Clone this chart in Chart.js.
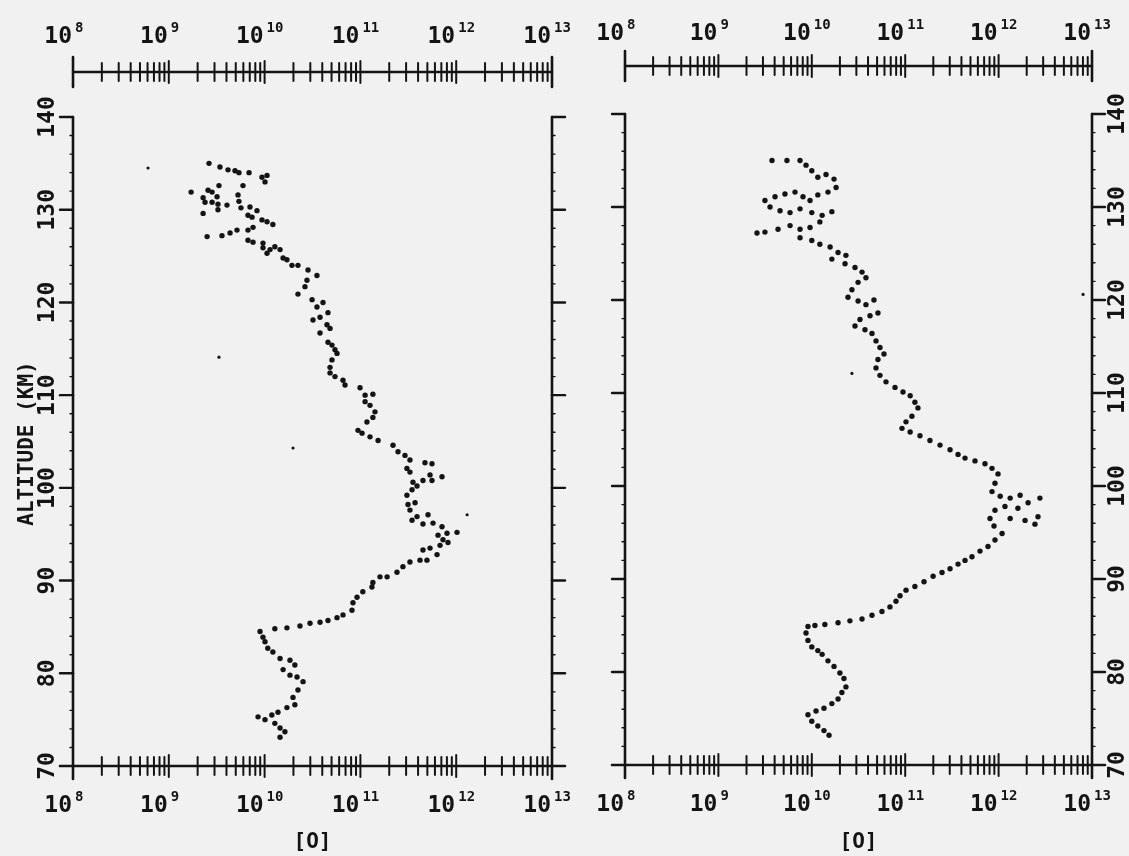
<!DOCTYPE html>
<html><head><meta charset="utf-8">
<script src="https://cdn.jsdelivr.net/npm/chart.js@4.4.1/dist/chart.umd.min.js"></script>
<style>
html,body{margin:0;padding:0;background:#f1f1f1;width:1129px;height:856px;overflow:hidden}
#wl{position:absolute;left:0;top:0;width:590px;height:856px}
#wr{position:absolute;left:590px;top:0;width:539px;height:856px}
</style></head><body>
<div id="wl"><canvas id="cl"></canvas></div>
<div id="wr"><canvas id="cr"></canvas></div>
<script>
// ---- axis labels ----
const xTickExponents = [8, 9, 10, 11, 12, 13];
const altitudeTicks = [70, 80, 90, 100, 110, 120, 130, 140];
const yTitle = 'ALTITUDE (KM)';
const xTitle = '[O]';

// ---- left profile: [O] density (cm^-3) and altitude (km) ----
const leftO = [2.63e9,3.42e9,4.15e9,4.91e9,5.40e9,6.88e9,9.39e9,1.06e10,1.01e10,3.34e9,
5.95e9,1.71e9,2.57e9,2.83e9,5.28e9,3.19e9,2.28e9,2.39e9,2.83e9,5.40e9,
3.26e9,4.05e9,7.04e9,5.67e9,3.26e9,8.33e9,2.28e9,6.71e9,7.39e9,9.39e9,
1.06e10,1.22e10,7.57e9,6.71e9,5.15e9,4.36e9,3.59e9,2.51e9,6.71e9,7.57e9,
9.62e9,1.28e10,9.62e9,1.14e10,1.45e10,1.06e10,1.56e10,1.71e10,1.93e10,2.23e10,
2.84e10,3.52e10,2.77e10,2.64e10,2.23e10,3.13e10,4.07e10,3.52e10,4.59e10,3.79e10,
3.20e10,4.48e10,4.82e10,3.79e10,4.59e10,5.05e10,5.43e10,5.70e10,5.05e10,4.82e10,
4.82e10,5.43e10,6.58e10,6.91e10,9.91e10,1.12e11,1.35e11,1.12e11,1.26e11,1.42e11,
1.35e11,1.17e11,9.44e10,1.04e11,1.26e11,1.53e11,2.19e11,2.47e11,2.92e11,3.29e11,
4.72e11,5.59e11,3.06e11,3.29e11,5.33e11,7.11e11,4.50e11,5.59e11,3.54e11,3.90e11,
3.46e11,3.06e11,3.72e11,3.14e11,3.29e11,5.08e11,3.90e11,3.46e11,5.73e11,4.50e11,
7.11e11,1.02e12,8.02e11,6.46e11,7.28e11,8.21e11,6.78e11,5.33e11,4.50e11,6.31e11,
4.95e11,4.19e11,3.29e11,2.78e11,2.41e11,1.90e11,1.60e11,1.35e11,1.32e11,1.06e11,
9.22e10,8.37e10,8.17e10,6.58e10,5.70e10,4.59e10,3.79e10,2.98e10,2.34e10,1.71e10,
1.28e10,8.96e9,9.62e9,1.01e10,1.08e10,1.22e10,1.45e10,1.84e10,2.07e10,1.56e10,
1.84e10,2.18e10,2.52e10,2.23e10,1.98e10,2.07e10,1.71e10,1.38e10,1.19e10,8.54e9,
1.01e10,1.28e10,1.45e10,1.63e10,1.45e10];
const leftAlt = [135.0,134.6,134.3,134.2,134.0,134.0,133.5,133.7,133.0,132.6,
132.6,131.9,132.1,131.9,131.6,131.4,131.3,130.8,130.8,130.9,
130.6,130.5,130.3,130.2,130.0,129.9,129.6,129.4,129.2,128.9,
128.7,128.4,128.1,127.8,127.8,127.5,127.2,127.1,126.7,126.5,
126.4,126.0,125.9,125.7,125.7,125.3,124.8,124.6,124.0,124.0,
123.5,122.9,122.4,121.7,120.9,120.3,120.0,119.5,118.9,118.4,
118.1,117.6,117.2,116.7,115.7,115.4,114.9,114.5,113.8,113.0,
112.4,112.0,111.6,111.1,110.8,110.0,110.1,109.3,108.9,108.2,
107.6,107.1,106.2,105.9,105.5,105.1,104.6,103.9,103.5,103.0,
102.7,102.6,102.1,101.7,101.4,101.2,100.8,100.8,100.6,100.2,
99.8,99.2,98.4,98.2,97.6,97.1,96.9,96.5,96.2,96.1,
95.8,95.2,95.1,94.9,94.4,94.1,93.8,93.5,93.3,92.8,
92.2,92.2,92.0,91.5,90.9,90.4,90.4,89.8,89.3,88.8,
88.2,87.6,86.8,86.3,86.0,85.7,85.5,85.4,85.1,84.9,
84.8,84.5,83.9,83.4,82.7,82.3,81.6,81.4,80.9,80.4,
79.8,79.6,79.1,78.2,77.4,76.6,76.3,75.8,75.5,75.3,
75.0,74.6,74.1,73.7,73.1];
const leftStrayO = [6.07e8, 3.34e9, 1.98e10, 1.30e12];
const leftStrayAlt = [134.5, 114.1, 104.3, 97.1];

// ---- right profile ----
const rightO = [3.75e9,5.42e9,7.48e9,8.67e9,1.00e10,1.16e10,1.42e10,1.73e10,1.82e10,1.49e10,
1.16e10,9.57e9,8.05e9,6.61e9,5.16e9,4.04e9,3.15e9,3.57e9,4.57e9,5.85e9,
7.48e9,1.00e10,1.29e10,1.64e10,1.22e10,9.57e9,7.48e9,5.85e9,4.35e9,3.15e9,
2.59e9,7.48e9,1.00e10,1.22e10,1.57e10,1.91e10,2.32e10,1.64e10,2.27e10,2.90e10,
3.45e10,3.80e10,3.13e10,2.69e10,2.44e10,3.13e10,3.80e10,4.63e10,5.11e10,4.20e10,
3.28e10,2.90e10,3.71e10,4.41e10,4.87e10,5.37e10,5.93e10,5.11e10,4.87e10,5.37e10,
6.23e10,7.78e10,9.47e10,1.13e11,1.27e11,1.37e11,1.18e11,1.02e11,9.24e10,1.13e11,
1.44e11,1.84e11,2.36e11,3.02e11,3.68e11,4.37e11,5.59e11,7.15e11,8.50e11,9.86e11,
9.15e11,8.50e11,1.04e12,1.33e12,1.70e12,2.77e12,2.07e12,1.61e12,1.17e12,9.15e11,
8.09e11,8.93e11,1.33e12,1.92e12,2.45e12,2.64e12,1.09e12,9.15e11,7.70e11,6.32e11,
5.19e11,4.37e11,3.68e11,3.02e11,2.48e11,1.99e11,1.59e11,1.27e11,1.02e11,8.80e10,
7.97e10,6.87e10,5.64e10,4.41e10,3.45e10,2.56e10,1.91e10,1.38e10,1.08e10,9.10e9,
8.67e9,9.10e9,1.00e10,1.16e10,1.29e10,1.49e10,1.73e10,2.00e10,2.21e10,2.32e10,
2.10e10,1.91e10,1.64e10,1.35e10,1.11e10,9.10e9,1.00e10,1.16e10,1.35e10,1.53e10];
const rightAlt = [135.0,135.0,135.0,134.5,133.9,133.2,133.5,133.0,132.1,131.6,
131.3,130.7,131.1,131.6,131.4,131.1,130.7,130.0,129.6,129.4,
129.8,129.4,129.1,129.5,128.4,127.8,127.6,128.0,127.6,127.3,
127.2,126.7,126.4,126.0,125.7,125.1,124.8,124.4,123.9,123.5,
123.0,122.4,121.9,121.1,120.3,119.9,119.5,120.0,118.6,118.3,
117.9,117.2,116.8,116.4,115.6,114.9,114.2,113.6,112.7,111.9,
111.2,110.6,110.1,109.7,109.0,108.4,107.5,106.9,106.2,105.8,
105.4,104.9,104.4,103.9,103.4,103.0,102.7,102.4,101.9,101.3,
100.3,99.4,98.9,98.7,99.0,98.7,98.2,97.6,97.8,97.4,
96.5,95.7,96.5,96.3,95.9,96.7,94.9,94.2,93.5,93.0,
92.4,92.0,91.6,91.1,90.7,90.3,89.7,89.2,88.8,88.2,
87.6,87.0,86.5,86.1,85.7,85.5,85.3,85.1,85.0,84.9,
84.2,83.4,82.7,82.3,81.9,81.2,80.6,79.9,79.3,78.4,
77.8,77.1,76.6,76.1,75.8,75.4,74.7,74.2,73.7,73.2];
const rightStrayO = [2.69e10, 8.02e12];
const rightStrayAlt = [112.1, 120.6];

const INK = '#141414';
const FONT = '"DejaVu Sans Mono", monospace';

function pts(xs, ys){ return xs.map((v,i)=>({x:v, y:ys[i]})); }

function drawPow(ctx, x, yBase, exp){
  ctx.font = 'bold 23px ' + FONT;
  ctx.textAlign = 'right'; ctx.textBaseline = 'alphabetic';
  ctx.fillText('10', x - 1, yBase);
  ctx.font = 'bold 14px ' + FONT;
  ctx.textAlign = 'left';
  ctx.fillText(String(exp), x + 2, yBase - 11);
}

function logAxis(ctx, xs, y0){
  ctx.lineWidth = 2;
  xTickExponents.forEach(e => {
    for (let m = 1; m <= 9; m++){
      const v = m * Math.pow(10, e);
      if (v > 1.0001e13) break;
      const px = xs.getPixelForValue(v);
      let up = 9, dn = 9;
      if (m === 1) { up = 11; dn = 11; }
      ctx.beginPath(); ctx.moveTo(px, y0 - up); ctx.lineTo(px, y0 + dn); ctx.stroke();
    }
  });
}

function framePlugin(opt){
  return {
    id: 'frame',
    afterDatasetsDraw(chart){
      const ctx = chart.ctx;
      const xs = chart.scales.x, ys = chart.scales.y;
      ctx.save();
      ctx.strokeStyle = INK; ctx.fillStyle = INK;
      ctx.lineCap = 'round';
      const xL = xs.getPixelForValue(1e8), xR = xs.getPixelForValue(1e13);
      const yB = ys.getPixelForValue(70), yT = ys.getPixelForValue(140);
      ctx.lineWidth = 2.6;
      ctx.beginPath(); ctx.moveTo(xL, yT); ctx.lineTo(xL, yB + 13); ctx.stroke();
      ctx.beginPath(); ctx.moveTo(xR, yT); ctx.lineTo(xR, yB + 13); ctx.stroke();
      ctx.beginPath(); ctx.moveTo(xL - 13, yB); ctx.lineTo(xR + 13, yB); ctx.stroke();
      ctx.lineWidth = 2.4;
      altitudeTicks.forEach(v => {
        if (v === 70) return;
        const py = ys.getPixelForValue(v);
        ctx.beginPath(); ctx.moveTo(xL, py); ctx.lineTo(xL - 13, py); ctx.stroke();
        ctx.beginPath(); ctx.moveTo(xR, py); ctx.lineTo(xR + 13, py); ctx.stroke();
      });
      ctx.lineWidth = 1.4;
      for (let v = 72; v < 140; v += 2){
        if (v % 10 === 0) continue;
        const py = ys.getPixelForValue(v);
        ctx.beginPath(); ctx.moveTo(xL, py); ctx.lineTo(xL - 3, py); ctx.stroke();
        ctx.beginPath(); ctx.moveTo(xR, py); ctx.lineTo(xR + 3, py); ctx.stroke();
      }
      logAxis(ctx, xs, yB);
      const yA = opt.topAxisY;
      ctx.lineWidth = 2.4;
      ctx.beginPath(); ctx.moveTo(xL, yA); ctx.lineTo(xR, yA); ctx.stroke();
      logAxis(ctx, xs, yA);
      ctx.lineWidth = 2.6;
      [xL, xR].forEach(px => { ctx.beginPath(); ctx.moveTo(px, yA - 15); ctx.lineTo(px, yA + 15); ctx.stroke(); });
      xTickExponents.forEach(e => {
        const px = xs.getPixelForValue(Math.pow(10, e));
        drawPow(ctx, px, opt.topLabelY, e);
        drawPow(ctx, px, opt.bottomLabelY, e);
      });
      ctx.font = 'bold 23px ' + FONT;
      ctx.textAlign = 'center'; ctx.textBaseline = 'middle';
      const lx = opt.labelsRight ? xR + 26 : xL - 25;
      altitudeTicks.forEach(v => {
        const py = ys.getPixelForValue(v);
        ctx.save(); ctx.translate(lx, py); ctx.rotate(-Math.PI / 2);
        ctx.fillText(String(v), 0, 0); ctx.restore();
      });
      if (opt.showTitle){
        ctx.save(); ctx.translate(28, (yT + yB) / 2 + 2); ctx.rotate(-Math.PI / 2);
        ctx.font = 'bold 21px ' + FONT;
        ctx.fillText(yTitle, 0, 0); ctx.restore();
      }
      ctx.font = 'bold 21px ' + FONT;
      ctx.textAlign = 'center'; ctx.textBaseline = 'middle';
      ctx.fillText(xTitle, (xL + xR) / 2, 843);
      ctx.restore();
    }
  };
}

function makeChart(id, main, stray, pad, opt){
  return new Chart(document.getElementById(id), {
    type: 'scatter',
    data: { datasets: [
      { data: main, pointRadius: 2.7, pointBackgroundColor: INK, pointBorderWidth: 0 },
      { data: stray, pointRadius: 1.6, pointBackgroundColor: INK, pointBorderWidth: 0 }
    ]},
    options: {
      responsive: true, maintainAspectRatio: false, animation: false,
      layout: { padding: pad },
      plugins: { legend: { display: false }, tooltip: { enabled: false } },
      scales: {
        x: { type: 'logarithmic', min: 1e8, max: 1e13, display: false },
        y: { type: 'linear', min: 70, max: 140, display: false }
      }
    },
    plugins: [framePlugin(opt)]
  });
}

makeChart('cl', pts(leftO, leftAlt), pts(leftStrayO, leftStrayAlt),
  { left: 73, right: 38, top: 117, bottom: 90 },
  { topAxisY: 72, topLabelY: 43, bottomLabelY: 812, labelsRight: false, showTitle: true });
makeChart('cr', pts(rightO, rightAlt), pts(rightStrayO, rightStrayAlt),
  { left: 35, right: 37, top: 114, bottom: 91 },
  { topAxisY: 66, topLabelY: 40, bottomLabelY: 811, labelsRight: true, showTitle: false });
</script>
</body></html>
